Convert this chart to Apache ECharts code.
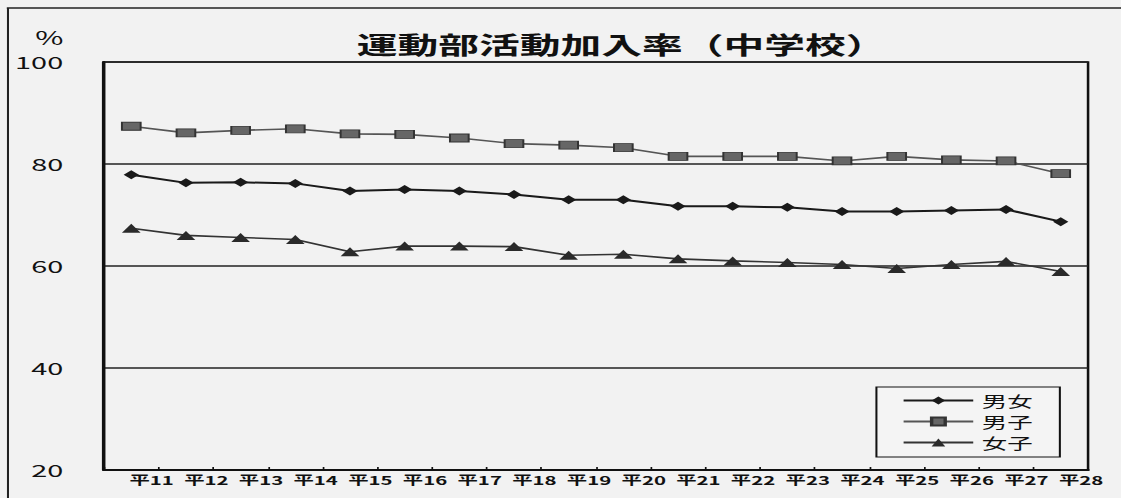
<!DOCTYPE html>
<html>
<head>
<meta charset="utf-8">
<script src="https://cdn.jsdelivr.net/npm/echarts@6/dist/echarts.min.js"></script>
<style>
  html, body { margin: 0; padding: 0; width: 1121px; height: 498px; overflow: hidden; background: #f2f2f2; }
  /* the printed sheet is wide-set: draw on a narrow canvas and stretch it across the page */
  #chart { position: absolute; left: 0; top: 0; width: 660px; height: 498px;
           transform: scaleX(1.6985); transform-origin: 0 0; }
</style>
</head>
<body>
<div id="chart"></div>
<script>
// 年度 (平成)
const categories = ['平11', '平12', '平13', '平14', '平15', '平16', '平17', '平18', '平19',
                    '平20', '平21', '平22', '平23', '平24', '平25', '平26', '平27', '平28'];

// 加入率 (%)
const danjo  = [77.9, 76.3, 76.4, 76.2, 74.7, 75.0, 74.7, 74.0, 73.0, 73.0, 71.7, 71.7, 71.5, 70.7, 70.7, 70.9, 71.1, 68.7];
const danshi = [87.4, 86.1, 86.6, 86.9, 85.9, 85.8, 85.1, 84.0, 83.7, 83.2, 81.5, 81.5, 81.5, 80.6, 81.5, 80.8, 80.6, 78.1];
const joshi  = [67.4, 66.0, 65.6, 65.2, 62.8, 63.9, 63.9, 63.8, 62.1, 62.3, 61.4, 61.0, 60.7, 60.3, 59.5, 60.3, 60.9, 58.9];

const seriesNames = ['男女', '男子', '女子'];
const yTicks = [20, 40, 60, 80, 100];

const FONT = '"Noto Sans CJK JP", "Noto Sans", sans-serif';
const INK = '#111';

const chart = echarts.init(document.getElementById('chart'), null, { renderer: 'svg' });

chart.setOption({
  backgroundColor: '#f2f2f2',
  animation: false,
  textStyle: { fontFamily: FONT, color: INK },
  title: {
    text: '運動部活動加入率（中学校）',
    left: 205,
    top: 27,
    textStyle: { fontFamily: FONT, fontSize: 24, fontWeight: 'bold', color: INK }
  },
  graphic: [
    // sheet frame
    { type: 'line', shape: { x1: 4, y1: 8, x2: 660, y2: 8 }, style: { stroke: '#222', lineWidth: 1.5 } },
    { type: 'line', shape: { x1: 4.7, y1: 8, x2: 4.7, y2: 498 }, style: { stroke: '#222', lineWidth: 1.2 } },
    // unit
    { type: 'text', x: 29, y: 37,
      style: { text: '%', fontFamily: FONT, fontSize: 18, fill: INK, align: 'center', verticalAlign: 'middle' } }
  ],
  legend: {
    data: seriesNames,
    orient: 'vertical',
    left: 516,
    top: 387,
    padding: [6, 16, 7, 15],
    itemWidth: 41,
    itemHeight: 10,
    itemGap: 6,
    borderColor: INK,
    borderWidth: 1.2,
    backgroundColor: '#f4f4f4',
    textStyle: { fontFamily: FONT, fontSize: 15, color: INK }
  },
  grid: {
    left: 61.2, right: 19.4, top: 62, bottom: 28,
    show: true, borderColor: INK, borderWidth: 1.5, backgroundColor: 'transparent'
  },
  xAxis: {
    type: 'category',
    data: categories,
    boundaryGap: true,
    axisLine: { lineStyle: { color: INK, width: 2 } },
    axisTick: { show: true, inside: true, length: 3, lineStyle: { color: INK, width: 1 } },
    axisLabel: { interval: 0, margin: 4, fontSize: 12, fontWeight: 'bold', color: INK, fontFamily: FONT, padding: [0, 0, 0, 24] },
    splitLine: { show: false }
  },
  yAxis: {
    type: 'value',
    min: yTicks[0],
    max: yTicks[yTicks.length - 1],
    interval: yTicks[1] - yTicks[0],
    axisLine: { show: true, lineStyle: { color: INK, width: 2 } },
    axisTick: { show: false },
    axisLabel: { margin: 24, fontSize: 17, color: INK, fontFamily: FONT },
    splitLine: { show: true, lineStyle: { color: '#222', width: 1.5 } }
  },
  series: [
    {
      name: seriesNames[0], type: 'line', data: danjo,
      symbol: 'diamond', symbolSize: [9, 9],
      lineStyle: { color: '#1a1a1a', width: 2 },
      itemStyle: { color: '#1a1a1a' }
    },
    {
      name: seriesNames[1], type: 'line', data: danshi,
      symbol: 'rect', symbolSize: [11, 8],
      lineStyle: { color: '#555', width: 1.6 },
      itemStyle: { color: '#666', borderColor: '#333', borderWidth: 1 }
    },
    {
      name: seriesNames[2], type: 'line', data: joshi,
      symbol: 'triangle', symbolSize: [11, 9],
      lineStyle: { color: '#333', width: 1.6 },
      itemStyle: { color: '#2a2a2a' }
    }
  ]
});
</script>
</body>
</html>
